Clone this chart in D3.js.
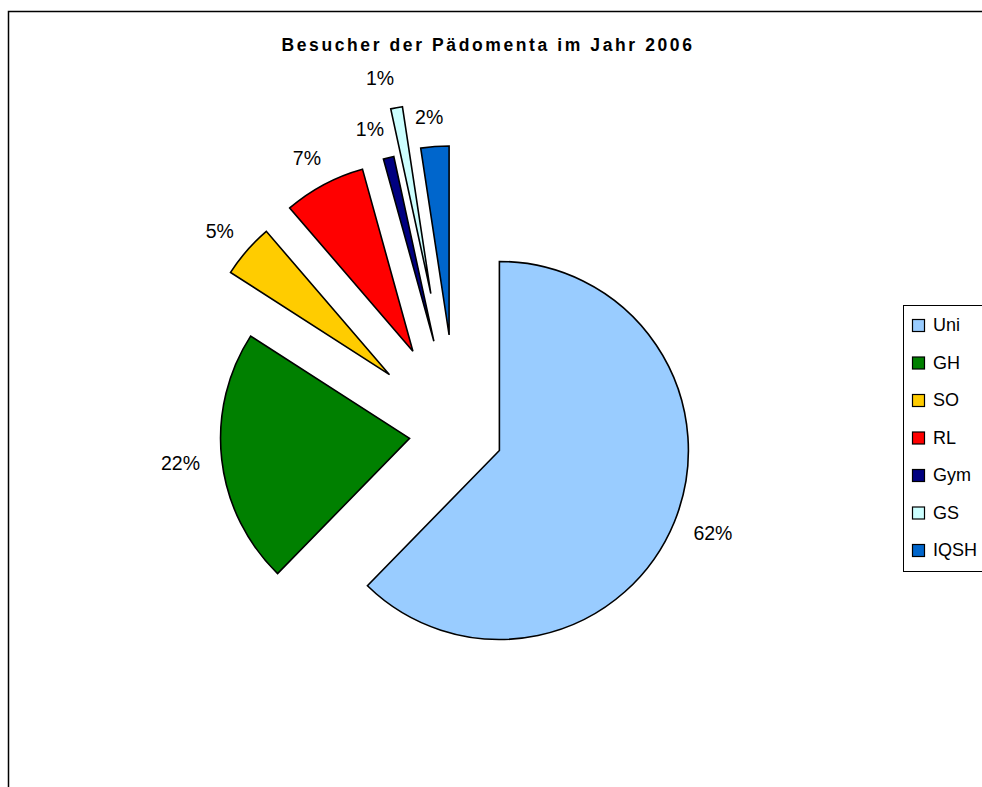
<!DOCTYPE html>
<html>
<head>
<meta charset="utf-8">
<script src="https://cdn.jsdelivr.net/npm/d3@7"></script>
<style>
  body { margin: 0; background: #fff; }
</style>
</head>
<body>
<div id="chart"></div>
<script>
// Besucher der Pädomenta im Jahr 2006 (Anteile in %)
var categories = ["Uni", "GH", "SO", "RL", "Gym", "GS", "IQSH"];
var values = [62.3, 21.8, 4.6, 7.0, 0.9, 1.0, 2.4];
var colors = ["#99CCFF", "#008000", "#FFCC00", "#FF0000", "#000080", "#CCFFFF", "#0066CC"];
var title = "Besucher der Pädomenta im Jahr 2006";

// Explosion der Segmente (Anteil am Radius)
var explode = [0.245, 0.25, 0.47, 0.49, 0.5, 0.75, 0.52];
// kleine Verschiebung der Beschriftung, wo Excel sie versetzt hat
var labelNudge = [0, 0, 0, 0, -10, -10, -3];

var width = 982, height = 787;
var cx = 456.5, cy = 433, radius = 189;

var svg = d3.select("#chart")
    .append("svg")
    .attr("width", width)
    .attr("height", height)
    .attr("style", "font-family:'Liberation Sans',Arial,sans-serif;");

// Rahmen (Diagrammfläche)
svg.append("rect")
    .attr("x", 8.5)
    .attr("y", 11.5)
    .attr("width", 1100)
    .attr("height", 1100)
    .style("fill", "none")
    .style("stroke", "#000")
    .style("stroke-width", 1.5);

svg.append("text")
    .attr("x", 488)
    .attr("y", 51)
    .attr("text-anchor", "middle")
    .style("font-size", "17.5px")
    .style("font-weight", "bold")
    .style("letter-spacing", "2.6px")
    .text(title);

var data = categories.map(function(c, i) { return {name: c, value: values[i], color: colors[i], i: i}; });
var total = d3.sum(values);
var fmt = d3.format(".0%");

var pie = d3.pie()
    .sort(null)
    .value(function(d) { return d.value; });

var arc = d3.arc()
    .innerRadius(0)
    .outerRadius(radius);

var arcs = pie(data);

function dir(a) { return [Math.sin(a), -Math.cos(a)]; }

var slices = svg.append("g")
    .attr("class", "slices")
    .selectAll("g")
    .data(arcs)
    .enter().append("g")
    .attr("transform", function(d) {
        var m = (d.startAngle + d.endAngle) / 2, v = dir(m), k = explode[d.index] * radius;
        return "translate(" + (cx + v[0] * k) + "," + (cy + v[1] * k) + ")";
    });

slices.append("path")
    .attr("d", arc)
    .style("fill", function(d) { return d.data.color; })
    .style("stroke", "#000")
    .style("stroke-width", 1.6)
    .style("stroke-linejoin", "miter");

// Prozent-Beschriftungen aussen am Segment
var labels = svg.append("g").attr("class", "labels");
arcs.forEach(function(d) {
    var m = (d.startAngle + d.endAngle) / 2, v = dir(m), k = explode[d.index] * radius;
    var t = labels.append("text")
        .style("font-size", "19.5px")
        .attr("text-anchor", "middle")
        .attr("dy", "0.36em")
        .text(fmt(d.value / total));
    var w = t.node().getComputedTextLength(), h = 16, gap = 22;
    var px = cx + v[0] * (k + radius + gap) + v[0] * w / 2 + labelNudge[d.index];
    var py = cy + v[1] * (k + radius + gap) + v[1] * h / 2;
    t.attr("x", px).attr("y", py);
});

// Legende
var legend = svg.append("g").attr("class", "legend");
legend.append("rect")
    .attr("x", 903.5)
    .attr("y", 305.5)
    .attr("width", 100)
    .attr("height", 266)
    .style("fill", "#fff")
    .style("stroke", "#000")
    .style("stroke-width", 1);

var ly = d3.scalePoint()
    .domain(categories)
    .range([325, 550]);

var item = legend.selectAll("g.item")
    .data(data)
    .enter().append("g")
    .attr("class", "item")
    .attr("transform", function(d) { return "translate(0," + ly(d.name) + ")"; });

item.append("rect")
    .attr("x", 912.5)
    .attr("y", -5.5)
    .attr("width", 12)
    .attr("height", 12)
    .style("fill", function(d) { return d.color; })
    .style("stroke", "#000")
    .style("stroke-width", 1.2);

item.append("text")
    .attr("x", 933)
    .attr("y", 0)
    .attr("dy", "0.36em")
    .style("font-size", "18px")
    .text(function(d) { return d.name; });
</script>
</body>
</html>
